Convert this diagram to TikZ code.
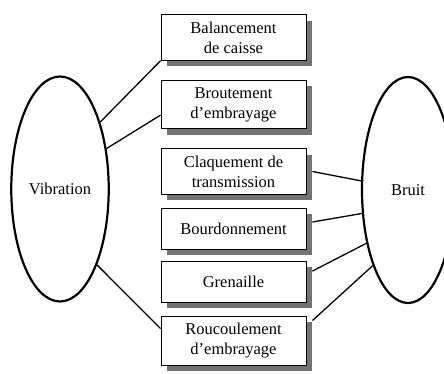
\documentclass[tikz,border=0pt]{standalone}
\usepackage{fontspec}
\setmainfont{Liberation Serif}
\usetikzlibrary{shapes.geometric,shadows}
\tikzset{
  defaut/.style={draw=black, thick, fill=white, minimum width=145pt, minimum height=41pt,
    inner ysep=7pt, align=center, font=\fontsize{16.5}{20}\selectfont,
    drop shadow={shadow xshift=6pt, shadow yshift=-6pt, fill=black!55, opacity=1}},
  bulle/.style={draw=black, line width=2.2pt, ellipse, font=\fontsize{16.5}{20}\selectfont},
  lien/.style={draw=black, line width=1.3pt}
}
\begin{document}
\begin{tikzpicture}[x=1pt,y=1pt]
\useasboundingbox (0,0) rectangle (444,374);

\node[bulle, minimum width=95pt, minimum height=225pt] (vib) at (60,185) {Vibration};
\node[bulle, minimum width=92pt, minimum height=226pt] (bruit) at (408,184) {Bruit};

\node[defaut] (b1) at (233.5,336.5) {Balancement\\de caisse};
\node[defaut] (b2) at (233.5,269.5) {Broutement\\d'embrayage};
\node[defaut] (b3) at (233.5,202.5) {Claquement de\\transmission};
\node[defaut] (b4) at (233.5,145) {Bourdonnement};
\node[defaut] (b5) at (233.5,92) {Grenaille};
\node[defaut] (b6) at (233.5,33.5) {Roucoulement\\d'embrayage};

\draw[lien] (vib.59) -- (b1.south west);
\draw[lien] (vib.41) -- ([yshift=14pt]b2.south west);
\draw[lien] (vib.-64) -- ([yshift=-13pt]b6.north west);

\draw[lien] ([xshift=6pt]b3.east) -- (bruit.169);
\draw[lien] ([xshift=6pt,yshift=7pt]b4.east) -- (bruit.207);
\draw[lien] ([xshift=6pt,yshift=-10pt]b5.north east) -- (bruit.232);
\draw[lien] ([xshift=6pt,yshift=-5pt]b6.north east) -- (bruit.245);

\end{tikzpicture}
\end{document}
